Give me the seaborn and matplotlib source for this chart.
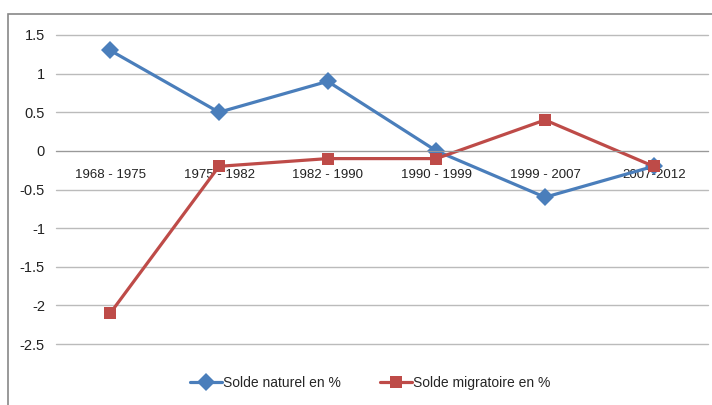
import numpy as np
import pandas as pd
import matplotlib.pyplot as plt
import seaborn as sns
from matplotlib.patches import Rectangle
from matplotlib.ticker import FixedLocator

periodes = ["1968 - 1975", "1975 - 1982", "1982 - 1990", "1990 - 1999", "1999 - 2007", "2007-2012"]
solde_naturel = [1.3, 0.5, 0.9, 0.0, -0.6, -0.2]
solde_migratoire = [-2.1, -0.2, -0.1, -0.1, 0.4, -0.2]
series = ["Solde naturel en %", "Solde migratoire en %"]
couleurs = ["#4A7EBB", "#BE4B48"]
yticks = [1.5, 1, 0.5, 0, -0.5, -1, -1.5, -2, -2.5]

df = pd.DataFrame({
    "periode": periodes * 2,
    "valeur": solde_naturel + solde_migratoire,
    "serie": [series[0]] * len(periodes) + [series[1]] * len(periodes),
})

sns.set_style("white")
plt.rcParams["font.family"] = ["Liberation Sans", "DejaVu Sans"]

fig = plt.figure(figsize=(7.12, 4.05), dpi=100)
ax = fig.add_axes([56 / 712, 1 - 344 / 405, 652 / 712, 309 / 405])

sns.lineplot(data=df, x="periode", y="valeur", hue="serie", style="serie",
             palette=couleurs, markers=["D", "s"], dashes=False, markersize=9,
             linewidth=2.3, markeredgewidth=0, ax=ax, legend=True, sort=False)

ax.set_xlim(-0.5, len(periodes) - 0.5)
ax.set_ylim(-2.5, 1.5)
ax.set_yticks(yticks)
ax.set_yticklabels([f"{v:g}" for v in yticks], fontsize=10.5, color="#222222")
ax.yaxis.grid(True, color="#BBBBBB", linewidth=1)
for gl in ax.get_ygridlines():
    gl.set_clip_on(False)
ax.set_axisbelow(True)
ax.set_xlabel("")
ax.set_ylabel("")

for s in ["top", "right", "left"]:
    ax.spines[s].set_visible(False)
ax.spines["bottom"].set_position(("data", 0))
ax.spines["bottom"].set_color("#999999")

ax.set_xticks(range(len(periodes)))
ax.set_xticklabels(periodes, fontsize=9.5, color="#222222")
ax.tick_params(axis="x", which="major", length=0, pad=13)
ax.xaxis.set_minor_locator(FixedLocator(np.arange(-0.5, len(periodes), 1.0)))
ax.tick_params(axis="x", which="minor", length=5, color="#999999", width=1, direction="out")
ax.tick_params(axis="y", length=0, pad=8)

handles, labels = ax.get_legend_handles_labels()
ax.legend_.remove()
fig.legend(handles, labels, loc="center", bbox_to_anchor=(0.52, 0.055), ncol=2,
           frameon=False, fontsize=10, handlelength=2.3, columnspacing=2.8, handletextpad=0.1)

# bordure du graphique
fig.patches.append(Rectangle((8 / 712, -0.2), 1.2, 1 - 14 / 405 + 0.2, transform=fig.transFigure,
                             fill=False, edgecolor="#888888", linewidth=1.2))

fig.savefig("out.png", dpi=100)
